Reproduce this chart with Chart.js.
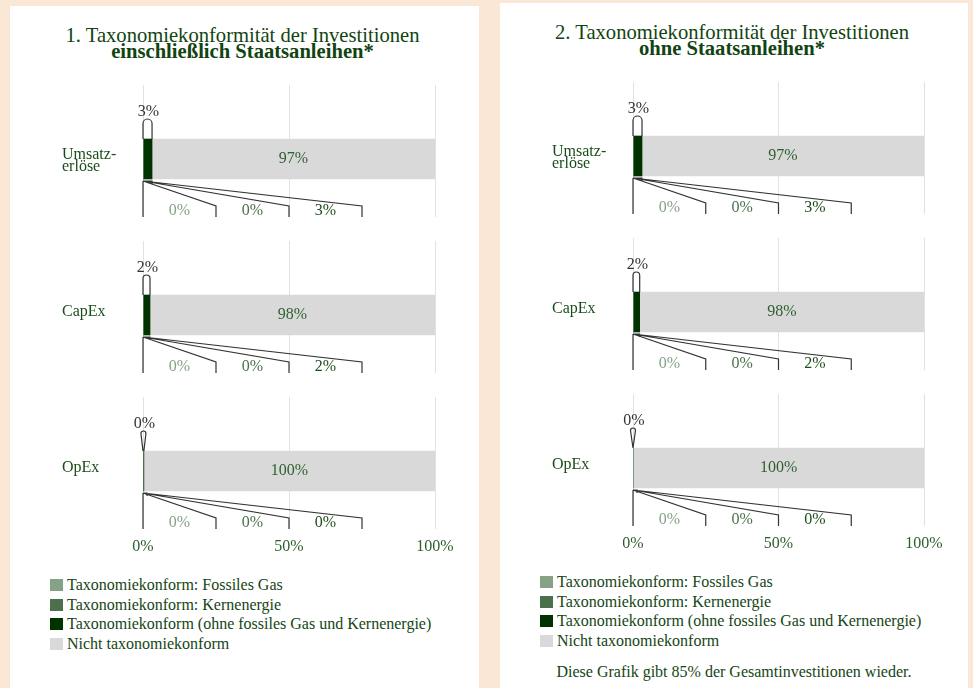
<!DOCTYPE html>
<html>
<head>
<meta charset="utf-8">
<script src="https://cdn.jsdelivr.net/npm/chart.js@4/dist/chart.umd.min.js"></script>
<style>
  body { margin: 0; width: 973px; height: 688px; overflow: hidden; background: #fbe7d6;
         font-family: "Liberation Serif", "Times New Roman", serif; color: #154515; }
  .panel { position: absolute; background: #fff; height: 700px; }
  .title { position: absolute; left: 0; right: 4px; top: 22px; text-align: center;
           font-size: 20.6px; line-height: 15.5px; color: #114411; }
  .panel canvas { position: absolute; left: 0; }
  .legend { position: absolute; left: 40px; top: 569px; font-size: 16px; line-height: 19.5px; }
  .legend .box { display: inline-block; width: 13px; height: 12px; margin-right: 4px; vertical-align: -1px; }
  .note { position: absolute; left: 0; right: 0; top: 659px; text-align: center; font-size: 16px; line-height: 19.5px; }
</style>
</head>
<body>

<div class="panel" id="p1" style="left:10px; top:6px; width:469px;">
  <div class="title">1. Taxonomiekonformität der Investitionen<br><b>einschließlich Staatsanleihen*</b></div>
  <div class="legend"></div>
</div>

<div class="panel" id="p2" style="left:500px; top:3px; width:468px;">
  <div class="title">2. Taxonomiekonformität der Investitionen<br><b>ohne Staatsanleihen*</b></div>
  <div class="legend"></div>
  <div class="note">Diese Grafik gibt 85% der Gesamtinvestitionen wieder.</div>
</div>

<script>
const categories = [['Umsatz-', 'erlöse'], 'CapEx', 'OpEx'];
const seriesNames = [
  'Taxonomiekonform: Fossiles Gas',
  'Taxonomiekonform: Kernenergie',
  'Taxonomiekonform (ohne fossiles Gas und Kernenergie)',
  'Nicht taxonomiekonform'
];
const seriesColors = ['#86a286', '#4b704b', '#003300', '#d9d9d9'];
const xTickValues = [0, 50, 100];

// 1. einschließlich Staatsanleihen
const gasIncl = [0, 0, 0];
const nuclearIncl = [0, 0, 0];
const alignedIncl = [3.1, 2.4, 0.3];
const notAlignedIncl = [96.9, 97.6, 99.7];

// 2. ohne Staatsanleihen
const gasExcl = [0, 0, 0];
const nuclearExcl = [0, 0, 0];
const alignedExcl = [3.1, 2.3, 0];
const notAlignedExcl = [96.9, 97.7, 100];

Chart.defaults.font.family = '"Liberation Serif", "Times New Roman", serif';
Chart.defaults.font.size = 16;

const fmt = v => Math.round(v) + '%';
const slotColors = ['#86a286', '#4b704b', '#1d4d1d'];

const calloutPlugin = {
  id: 'callouts',
  afterDatasetsDraw(chart) {
    const { ctx, chartArea: area } = chart;
    const x = chart.scales.x;
    const vals = chart.data.datasets.map(d => d.data[0].x);
    const alignedTotal = vals[0] + vals[1] + vals[2];
    const rest = chart.getDatasetMeta(3).data[0];
    const top = rest.y - rest.height / 2;
    const bottom = rest.y + rest.height / 2;
    const x0 = x.getPixelForValue(0);
    const x1 = x.getPixelForValue(alignedTotal);

    ctx.save();
    ctx.font = '16px "Liberation Serif", serif';
    ctx.textAlign = 'center';
    ctx.textBaseline = 'middle';

    // value inside the grey bar
    ctx.fillStyle = '#2f5f2f';
    ctx.fillText(fmt(vals[3]), (rest.x + rest.base) / 2, rest.y);

    // loop above the aligned part
    const w = Math.max(x1 - x0, 5);
    const cx = (x0 + x1) / 2;
    const r = w / 2;
    const peak = top - 20;
    ctx.strokeStyle = '#333';
    ctx.lineWidth = 1.2;
    ctx.beginPath();
    ctx.moveTo(x0, top);
    ctx.lineTo(cx - r, peak + r);
    ctx.arc(cx, peak + r, r, Math.PI, 0);
    ctx.lineTo(x1, top);
    ctx.stroke();
    ctx.fillStyle = '#333';
    ctx.fillText(fmt(alignedTotal), cx + 1, peak - 7);

    // breakdown fan below the bar
    const oy = bottom + 2;
    const yb = area.bottom;
    const yt = area.bottom - 11;
    ctx.beginPath();
    ctx.moveTo(x0, oy);
    ctx.lineTo(Math.max(x1, x0 + 4), oy);
    ctx.lineTo(Math.max(x1, x0 + 4), oy + 3);
    ctx.moveTo(x0, oy);
    ctx.lineTo(x0, yb);
    [25, 50, 75].forEach(e => {
      const ex = x.getPixelForValue(e);
      ctx.moveTo(x0, oy);
      ctx.lineTo(ex, yt);
      ctx.lineTo(ex, yb);
    });
    ctx.stroke();
    for (let i = 0; i < 3; i++) {
      ctx.fillStyle = slotColors[i];
      ctx.fillText(fmt(vals[i]), x.getPixelForValue(12.5 + 25 * i), yb - 6);
    }
    ctx.restore();
  }
};

function makeChart(panel, idx, series) {
  const isLast = idx === categories.length - 1;
  const canvas = document.createElement('canvas');
  const w = panel.offsetWidth;
  const h = isLast ? 172 : 132;
  canvas.width = w;
  canvas.height = h;
  canvas.style.width = w + 'px';
  canvas.style.height = h + 'px';
  canvas.style.top = (79 + 156 * idx) + 'px';
  panel.appendChild(canvas);

  new Chart(canvas, {
    type: 'bar',
    data: {
      datasets: series.map((s, i) => ({
        label: seriesNames[i],
        data: [{ x: s[idx], y: 0 }],
        backgroundColor: seriesColors[i],
        borderWidth: 0,
        barThickness: 40
      }))
    },
    options: {
      indexAxis: 'y',
      responsive: false,
      animation: false,
      layout: { padding: { left: 52, right: 44, top: 0, bottom: 0 } },
      plugins: { legend: { display: false }, tooltip: { enabled: false } },
      scales: {
        x: {
          stacked: true, min: 0, max: 100,
          afterBuildTicks: s => { s.ticks = xTickValues.map(v => ({ value: v })); },
          afterFit: s => { s.height = isLast ? 40 : 0; },
          ticks: { display: isLast, callback: v => v + '%', color: '#2b5e2b', padding: 8 },
          grid: { color: '#e2e2e2', drawTicks: false },
          border: { display: false }
        },
        y: {
          type: 'linear', stacked: true, offset: false, min: -0.58, max: 0.74,
          afterBuildTicks: s => { s.ticks = [{ value: 0 }]; },
          afterFit: s => { s.width = 81; s.paddingTop = 0; s.paddingBottom = 0; },
          ticks: {
            callback: () => categories[idx],
            crossAlign: 'far', padding: 0, color: '#1a4d1a',
            labelOffset: Array.isArray(categories[idx]) ? 1.5 : -3,
            font: { size: 16, lineHeight: 0.75 }
          },
          grid: { display: false },
          border: { display: false }
        }
      }
    },
    plugins: [calloutPlugin]
  });
}

function buildPanel(id, series) {
  const panel = document.getElementById(id);
  categories.forEach((c, i) => makeChart(panel, i, series));
  panel.querySelector('.legend').innerHTML = seriesNames.map((n, i) =>
    '<div><span class="box" style="background:' + seriesColors[i] + '"></span>' + n + '</div>').join('');
}

buildPanel('p1', [gasIncl, nuclearIncl, alignedIncl, notAlignedIncl]);
buildPanel('p2', [gasExcl, nuclearExcl, alignedExcl, notAlignedExcl]);
</script>
</body>
</html>
